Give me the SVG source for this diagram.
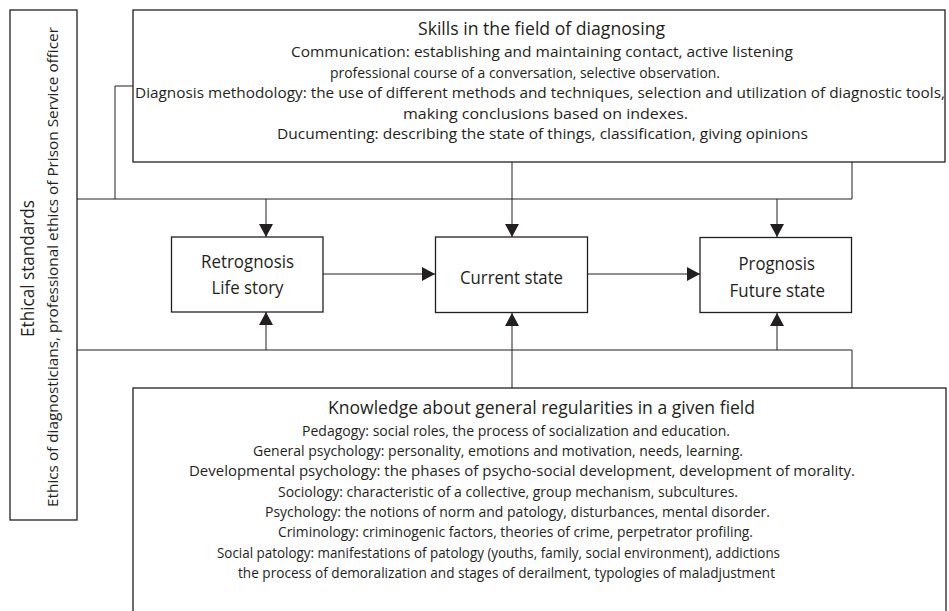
<svg xmlns="http://www.w3.org/2000/svg" width="949" height="611" viewBox="0 0 949 611">
<style>
  .box { fill: #ffffff; stroke: #231f20; stroke-width: 1.3; }
  .ln { fill: none; stroke: #231f20; stroke-width: 1; }
  .t { font-family: "Open Sans", "Liberation Sans", sans-serif; fill: #231f20; }
  .title { font-size: 18px; }
  .body { font-size: 14px; }
  .node { font-size: 19px; }
</style>
<defs>
  <marker id="arr" markerUnits="userSpaceOnUse" markerWidth="13" markerHeight="14" viewBox="0 0 13 14" refX="13" refY="7" orient="auto">
    <path d="M0,0 L13,7 L0,14 z" fill="#231f20"/>
  </marker>
</defs>
<rect x="0" y="0" width="949" height="611" fill="#ffffff"/>

<g id="connectors">
  <polyline class="ln" points="133,86 115,86 115,199"/>
  <line class="ln" x1="77" y1="199" x2="852" y2="199"/>
  <line class="ln" x1="852" y1="162" x2="852" y2="199"/>
  <line class="ln" x1="512" y1="162" x2="512" y2="237" marker-end="url(#arr)"/>
  <line class="ln" x1="266" y1="199" x2="266" y2="237" marker-end="url(#arr)"/>
  <line class="ln" x1="777" y1="199" x2="777" y2="237" marker-end="url(#arr)"/>
  <line class="ln" x1="323" y1="274" x2="435" y2="274" marker-end="url(#arr)"/>
  <line class="ln" x1="588" y1="274" x2="700" y2="274" marker-end="url(#arr)"/>
  <line class="ln" x1="77" y1="350" x2="852" y2="350"/>
  <line class="ln" x1="852" y1="350" x2="852" y2="388"/>
  <line class="ln" x1="266" y1="350" x2="266" y2="312" marker-end="url(#arr)"/>
  <line class="ln" x1="512" y1="388" x2="512" y2="313" marker-end="url(#arr)"/>
  <line class="ln" x1="777" y1="350" x2="777" y2="313" marker-end="url(#arr)"/>
</g>

<g id="ethics">
  <rect class="box" x="10" y="10" width="67" height="510"/>
  <text class="t title" transform="translate(34,337) rotate(-90)" textLength="137" lengthAdjust="spacingAndGlyphs">Ethical standards</text>
  <text class="t" font-size="15" transform="translate(57.5,507) rotate(-90)" textLength="480" lengthAdjust="spacingAndGlyphs">Ethics of diagnosticians, professional ethics of Prison Service officer</text>
</g>

<g id="skills">
  <rect class="box" x="133" y="10" width="812" height="152"/>
  <text class="t title" x="418" y="35" textLength="247" lengthAdjust="spacingAndGlyphs">Skills in the field of diagnosing</text>
  <text class="t body" x="291" y="57" textLength="502" lengthAdjust="spacingAndGlyphs">Communication: establishing and maintaining contact, active listening</text>
  <text class="t body" x="330" y="77.5" textLength="390" lengthAdjust="spacingAndGlyphs">professional course of a conversation, selective observation.</text>
  <text class="t body" x="135" y="98" textLength="810" lengthAdjust="spacingAndGlyphs">Diagnosis methodology: the use of different methods and techniques, selection and utilization of diagnostic tools,</text>
  <text class="t body" x="403" y="118.5" textLength="285" lengthAdjust="spacingAndGlyphs">making conclusions based on indexes.</text>
  <text class="t body" x="277" y="139" textLength="531" lengthAdjust="spacingAndGlyphs">Ducumenting: describing the state of things, classification, giving opinions</text>
</g>

<g id="retrognosis">
  <rect class="box" x="171.5" y="237" width="151.5" height="75"/>
  <text class="t node" x="201" y="267.5" textLength="93" lengthAdjust="spacingAndGlyphs">Retrognosis</text>
  <text class="t node" x="211.5" y="293.5" textLength="72" lengthAdjust="spacingAndGlyphs">Life story</text>
</g>

<g id="current">
  <rect class="box" x="435.5" y="237" width="152" height="75.5"/>
  <text class="t node" x="460" y="283.5" textLength="103" lengthAdjust="spacingAndGlyphs">Current state</text>
</g>

<g id="prognosis">
  <rect class="box" x="700" y="237.5" width="151.5" height="75"/>
  <text class="t node" x="738.5" y="269.5" textLength="76.5" lengthAdjust="spacingAndGlyphs">Prognosis</text>
  <text class="t node" x="729.5" y="296.5" textLength="95.5" lengthAdjust="spacingAndGlyphs">Future state</text>
</g>

<g id="knowledge">
  <rect class="box" x="133" y="388" width="813" height="240"/>
  <text class="t title" x="328" y="414" textLength="427" lengthAdjust="spacingAndGlyphs">Knowledge about general regularities in a given field</text>
  <text class="t body" x="302" y="435.5" textLength="428" lengthAdjust="spacingAndGlyphs">Pedagogy: social roles, the process of socialization and education.</text>
  <text class="t body" x="253" y="456" textLength="490" lengthAdjust="spacingAndGlyphs">General psychology: personality, emotions and motivation, needs, learning.</text>
  <text class="t body" x="189" y="476" textLength="666" lengthAdjust="spacingAndGlyphs">Developmental psychology: the phases of psycho-social development, development of morality.</text>
  <text class="t body" x="278" y="496.5" textLength="460" lengthAdjust="spacingAndGlyphs">Sociology: characteristic of a collective, group mechanism, subcultures.</text>
  <text class="t body" x="265" y="517" textLength="505" lengthAdjust="spacingAndGlyphs">Psychology: the notions of norm and patology, disturbances, mental disorder.</text>
  <text class="t body" x="278" y="537" textLength="475" lengthAdjust="spacingAndGlyphs">Criminology: criminogenic factors, theories of crime, perpetrator profiling.</text>
  <text class="t body" x="217" y="557.5" textLength="563" lengthAdjust="spacingAndGlyphs">Social patology: manifestations of patology (youths, family, social environment), addictions</text>
  <text class="t body" x="238" y="578" textLength="537" lengthAdjust="spacingAndGlyphs">the process of demoralization and stages of derailment, typologies of maladjustment</text>
</g>
</svg>
